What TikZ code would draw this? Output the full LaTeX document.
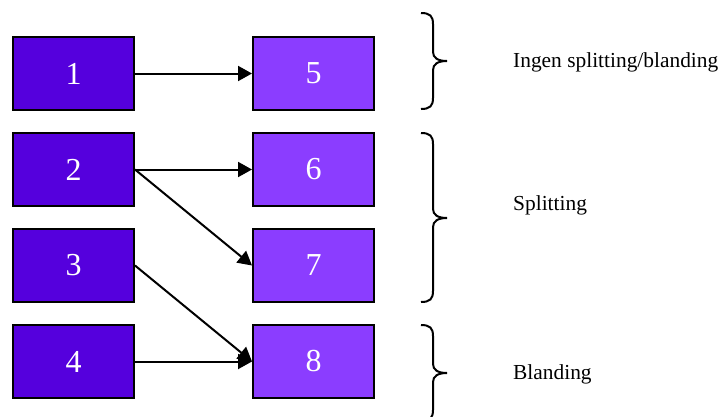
\documentclass[tikz,border=0pt]{standalone}
\usepackage{fontspec}
\setmainfont{Liberation Serif}
\usetikzlibrary{arrows.meta}
\definecolor{dark}{HTML}{5500DD}
\definecolor{light}{HTML}{8B3DFF}
\tikzset{
  srcbox/.style={draw=black, line width=2pt, fill=dark, minimum width=121pt, minimum height=73pt, inner sep=0pt, text=white, font=\fontsize{32}{32}\selectfont},
  dstbox/.style={srcbox, fill=light},
  flow/.style={line width=2pt, -{Triangle[length=14pt,width=15pt]}},
  brace/.style={line width=2pt},
  lbl/.style={anchor=base west, inner sep=0pt, font=\fontsize{21.4}{21.4}\selectfont}
}
\begin{document}
\begin{tikzpicture}[x=1pt,y=-1pt]
\useasboundingbox (0,0) rectangle (720,416);
\clip (0,0) rectangle (720,416);
\node[srcbox] (b1) at (73.5,73.5) {1};
\node[srcbox] (b2) at (73.5,169.5) {2};
\node[srcbox] (b3) at (73.5,265.5) {3};
\node[srcbox] (b4) at (73.5,361.5) {4};
\node[dstbox] (b5) at (313.5,73.5) {5};
\node[dstbox] (b6) at (313.5,169.5) {6};
\node[dstbox] (b7) at (313.5,265.5) {7};
\node[dstbox] (b8) at (313.5,361.5) {8};
\draw[flow] (b1.east) -- (b5.west);
\draw[flow] (b2.east) -- (b6.west);
\draw[flow] (b2.east) -- (b7.west);
\draw[flow] (b3.east) -- (b8.west);
\draw[flow] (b4.east) -- (b8.west);
% braces
\draw[brace] (421,13) .. controls (430,13) and (433,16) .. (433,24) -- (433,52)
  .. controls (433,58) and (438,61) .. (447,61)
  .. controls (438,61) and (433,64) .. (433,70) -- (433,98)
  .. controls (433,106) and (430,109) .. (421,109);
\draw[brace] (421,133) .. controls (430,133) and (433,136) .. (433,144) -- (433,209)
  .. controls (433,215) and (438,218) .. (447,218)
  .. controls (438,218) and (433,221) .. (433,227) -- (433,291)
  .. controls (433,299) and (430,302) .. (421,302);
\draw[brace] (421,325) .. controls (430,325) and (433,328) .. (433,336) -- (433,364)
  .. controls (433,370) and (438,373) .. (447,373)
  .. controls (438,373) and (433,376) .. (433,382) -- (433,410)
  .. controls (433,418) and (430,421) .. (421,421);
\node[lbl] (t1) at (513,67) {Ingen splitting/blanding};
\node[lbl] (t2) at (513,210) {Splitting};
\node[lbl] (t3) at (513,379) {Blanding};
\end{tikzpicture}
\end{document}
